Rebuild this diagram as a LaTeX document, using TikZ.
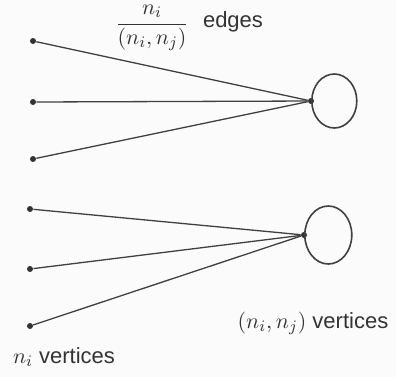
\documentclass[tikz,border=0pt]{standalone}
\usepackage{fontspec}
\setmainfont{Liberation Sans}
\usetikzlibrary{shapes.geometric}

\begin{document}
\begin{tikzpicture}[x=0.5pt,y=-0.5pt]
  \tikzset{
    vert/.style={circle,fill=black!80,inner sep=0pt,minimum size=3pt},
    edge/.style={draw=black!75,line width=0.65pt},
    loopy/.style={draw=black!75,ellipse,line width=0.8pt,inner sep=0pt,anchor=west},
    lbl/.style={font=\fontsize{11}{13}\selectfont,text=black!80,inner sep=1pt}
  }
  \fill[gray!3] (0,0) rectangle (396,377);
  % upper group
  \node[vert] (hubA) at (311,101) {};
  \node[loopy,minimum width=22.5pt,minimum height=27pt] (loopA) at (hubA.center) {};
  \foreach \n/\y in {1/41,2/102,3/159} {
    \node[vert] (a\n) at (33,\y) {};
    \draw[edge] (a\n) -- (hubA);
  }
  % lower group
  \node[vert] (hubB) at (304,235) {};
  \node[loopy,minimum width=23.5pt,minimum height=29pt] (loopB) at (hubB.center) {};
  \foreach \n/\y in {1/209,2/269,3/326} {
    \node[vert] (b\n) at (30,\y) {};
    \draw[edge] (b\n) -- (hubB);
  }
  % labels
  \node[lbl] (frac) at (152,28) {$\displaystyle\frac{n_i}{(n_i,n_j)}$};
  \node[lbl] (edges) at (233,22) {edges};
  \node[lbl] (hubtext) at (313,323) {$(n_i,n_j)$ vertices};
  \node[lbl] (lefttext) at (64,357) {$n_i$ vertices};
\end{tikzpicture}
\end{document}
